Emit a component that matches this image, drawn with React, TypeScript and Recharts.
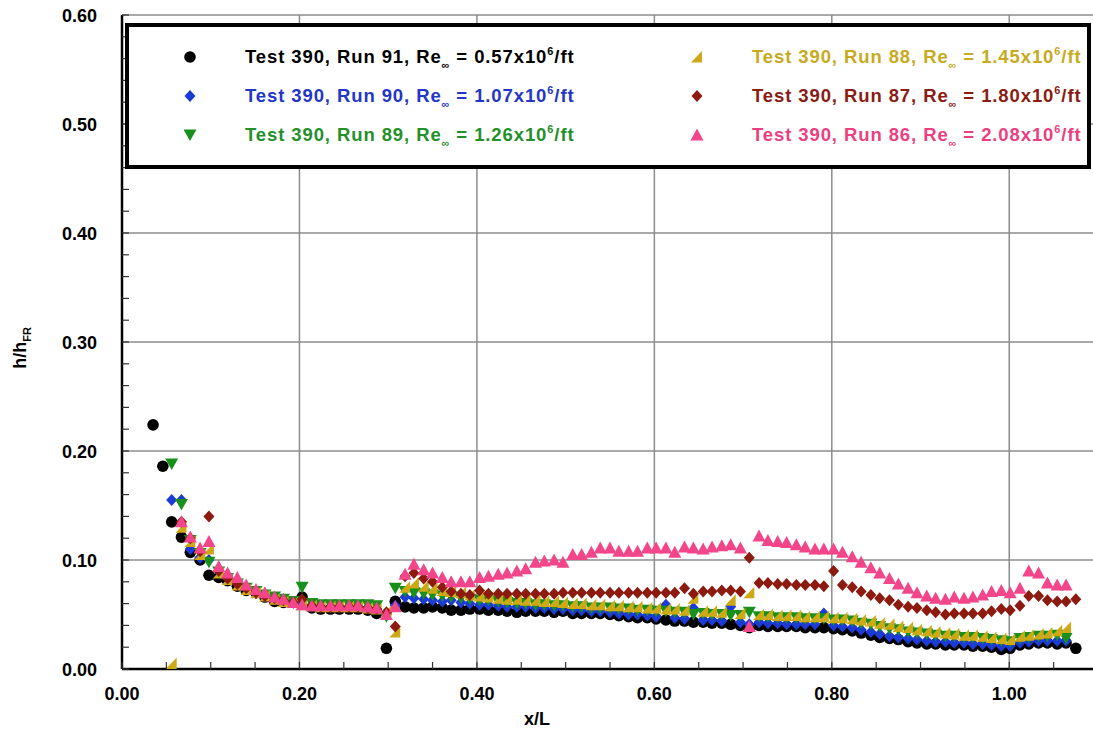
import React from "react";
import { CartesianGrid, Scatter, ScatterChart, XAxis, YAxis } from "recharts";

// x/L stations shared by all runs
const stations = [
  0.035, 0.046, 0.056, 0.067, 0.077, 0.088, 0.098, 0.109, 0.119, 0.13,
  0.14, 0.151, 0.161, 0.172, 0.182, 0.193, 0.203, 0.214, 0.224, 0.235,
  0.245, 0.256, 0.266, 0.277, 0.287, 0.298, 0.308, 0.319, 0.329, 0.34,
  0.35, 0.361, 0.371, 0.382, 0.392, 0.403, 0.413, 0.424, 0.434, 0.445,
  0.455, 0.466, 0.476, 0.487, 0.497, 0.508, 0.518, 0.529, 0.539, 0.55,
  0.56, 0.571, 0.581, 0.592, 0.602, 0.613, 0.623, 0.634, 0.644, 0.655,
  0.665, 0.676, 0.686, 0.697, 0.707, 0.718, 0.728, 0.739, 0.749, 0.76,
  0.77, 0.781, 0.791, 0.802, 0.812, 0.823, 0.833, 0.844, 0.854, 0.865,
  0.875, 0.886, 0.896, 0.907, 0.917, 0.928, 0.938, 0.949, 0.959, 0.97,
  0.98, 0.991, 1.001, 1.012, 1.022, 1.033, 1.043, 1.054, 1.064, 1.075,
];

const run91 = [
  0.224, 0.186, 0.135, 0.121, 0.107, 0.1, 0.086, 0.084, 0.081, 0.076,
  0.072, 0.07, 0.066, 0.062, 0.061, 0.061, 0.066, 0.056, 0.055, 0.055,
  0.055, 0.055, 0.055, 0.054, 0.051, 0.019, 0.062, 0.057, 0.056, 0.056,
  0.057, 0.056, 0.054, 0.054, 0.055, 0.055, 0.054, 0.054, 0.053, 0.052,
  0.053, 0.053, 0.053, 0.052, 0.053, 0.051, 0.051, 0.051, 0.051, 0.05,
  0.049, 0.048, 0.047, 0.047, 0.046, 0.045, 0.044, 0.044, 0.043, 0.043,
  0.042, 0.042, 0.041, 0.04, 0.038, 0.04, 0.039, 0.039, 0.039, 0.039,
  0.038, 0.038, 0.038, 0.037, 0.036, 0.035, 0.033, 0.031, 0.029, 0.028,
  0.027, 0.025, 0.024, 0.023, 0.023, 0.022, 0.022, 0.022, 0.021, 0.021,
  0.02, 0.018, 0.019, 0.022, 0.023, 0.024, 0.024, 0.023, 0.024, 0.019,
];

const run90 = [
  null, null, 0.155, 0.155, 0.11, 0.102, 0.1, 0.09, 0.085, 0.079,
  0.074, 0.07, 0.067, 0.064, 0.062, 0.061, 0.06, 0.058, 0.057, 0.057,
  0.057, 0.057, 0.057, 0.056, 0.055, 0.05, 0.058, 0.066, 0.065, 0.064,
  0.063, 0.062, 0.063, 0.061, 0.06, 0.059, 0.059, 0.058, 0.057, 0.057,
  0.057, 0.056, 0.056, 0.055, 0.055, 0.054, 0.054, 0.053, 0.053, 0.052,
  0.051, 0.05, 0.05, 0.049, 0.048, 0.059, 0.047, 0.046, 0.056, 0.045,
  0.045, 0.044, 0.057, 0.043, 0.041, 0.043, 0.042, 0.042, 0.041, 0.041,
  0.041, 0.041, 0.051, 0.04, 0.039, 0.038, 0.036, 0.034, 0.032, 0.03,
  0.029, 0.028, 0.027, 0.026, 0.025, 0.025, 0.024, 0.024, 0.023, 0.023,
  0.022, 0.021, 0.021, 0.024, 0.025, 0.026, 0.026, 0.026, 0.026, null,
];

const run89 = [
  null, null, 0.188, 0.151, 0.118, 0.106, 0.098, 0.089, 0.083, 0.078,
  0.074, 0.071, 0.068, 0.066, 0.064, 0.062, 0.075, 0.06, 0.059, 0.059,
  0.059, 0.059, 0.059, 0.059, 0.058, 0.048, 0.074, 0.071, 0.07, 0.069,
  0.068, 0.067, 0.066, 0.065, 0.064, 0.063, 0.063, 0.062, 0.061, 0.06,
  0.06, 0.059, 0.059, 0.058, 0.058, 0.057, 0.057, 0.056, 0.056, 0.056,
  0.055, 0.055, 0.054, 0.054, 0.053, 0.053, 0.052, 0.052, 0.05, 0.051,
  0.05, 0.05, 0.049, 0.049, 0.052, 0.048, 0.048, 0.047, 0.047, 0.047,
  0.046, 0.046, 0.046, 0.045, 0.045, 0.044, 0.042, 0.041, 0.039, 0.037,
  0.036, 0.034, 0.033, 0.032, 0.031, 0.03, 0.03, 0.029, 0.029, 0.028,
  0.027, 0.026, 0.025, 0.028, 0.029, 0.03, 0.03, 0.031, 0.028, null,
];

const run88 = [
  null, null, 0.005, 0.13, 0.117, 0.105, 0.11, 0.088, 0.082, 0.077,
  0.073, 0.07, 0.067, 0.064, 0.062, 0.061, 0.059, 0.058, 0.057, 0.057,
  0.057, 0.057, 0.057, 0.056, 0.055, 0.053, 0.034, 0.075, 0.079, 0.076,
  0.074, 0.072, 0.071, 0.07, 0.068, 0.067, 0.066, 0.065, 0.064, 0.064,
  0.063, 0.063, 0.062, 0.062, 0.061, 0.06, 0.06, 0.059, 0.059, 0.058,
  0.058, 0.057, 0.057, 0.056, 0.056, 0.055, 0.055, 0.054, 0.065, 0.053,
  0.053, 0.052, 0.063, 0.051, 0.07, 0.05, 0.05, 0.049, 0.049, 0.049,
  0.048, 0.048, 0.048, 0.047, 0.047, 0.046, 0.045, 0.044, 0.042, 0.041,
  0.039, 0.038, 0.036, 0.035, 0.034, 0.033, 0.032, 0.031, 0.031, 0.03,
  0.029, 0.028, 0.027, 0.03, 0.031, 0.032, 0.033, 0.035, 0.038, null,
];

const run87 = [
  null, null, null, 0.135, 0.12, 0.108, 0.14, 0.09, 0.083, 0.078,
  0.074, 0.07, 0.067, 0.065, 0.063, 0.061, 0.064, 0.058, 0.057, 0.057,
  0.057, 0.057, 0.057, 0.056, 0.055, 0.052, 0.039, 0.085, 0.088, 0.083,
  0.08, 0.075, 0.071, 0.069, 0.068, 0.072, 0.069, 0.069, 0.069, 0.069,
  0.069, 0.069, 0.069, 0.069, 0.07, 0.07, 0.07, 0.07, 0.07, 0.07,
  0.07, 0.07, 0.07, 0.07, 0.07, 0.07, 0.07, 0.074, 0.069, 0.071,
  0.071, 0.072, 0.072, 0.071, 0.102, 0.079, 0.079, 0.078, 0.078, 0.077,
  0.077, 0.077, 0.076, 0.09, 0.077, 0.075, 0.071, 0.068, 0.065, 0.063,
  0.059, 0.057, 0.056, 0.054, 0.052, 0.05, 0.051, 0.051, 0.051, 0.051,
  0.053, 0.055, 0.054, 0.058, 0.067, 0.067, 0.063, 0.062, 0.062, 0.064,
];

const run86 = [
  null, null, null, 0.135, 0.121, 0.111, 0.117, 0.094, 0.088, 0.084,
  0.077, 0.073, 0.07, 0.066, 0.064, 0.061, 0.059, 0.058, 0.058, 0.058,
  0.058, 0.058, 0.058, 0.057, 0.056, 0.05, 0.057, 0.087, 0.096, 0.091,
  0.088, 0.084, 0.08, 0.08, 0.08, 0.084, 0.085, 0.087, 0.088, 0.09,
  0.092, 0.098, 0.099, 0.1, 0.098, 0.105, 0.105, 0.107, 0.111, 0.111,
  0.108, 0.108, 0.108, 0.111, 0.111, 0.111, 0.107, 0.112, 0.111, 0.11,
  0.112, 0.113, 0.114, 0.111, 0.039, 0.122, 0.118, 0.117, 0.116, 0.114,
  0.112, 0.11, 0.11, 0.11, 0.107, 0.103, 0.098, 0.093, 0.088, 0.083,
  0.078, 0.074, 0.07, 0.067, 0.065, 0.064, 0.066, 0.065, 0.066, 0.068,
  0.071, 0.072, 0.07, 0.074, 0.09, 0.088, 0.079, 0.077, 0.077, null,
];

const runNumbers = ["91", "90", "89", "88", "87", "86"];
const reValues = ["0.57", "1.07", "1.26", "1.45", "1.80", "2.08"];

const xTicks = [
  0, 0.05, 0.1, 0.15, 0.2, 0.25, 0.3, 0.35, 0.4, 0.45, 0.5, 0.55,
  0.6, 0.65, 0.7, 0.75, 0.8, 0.85, 0.9, 0.95, 1.0, 1.05, 1.1,
];
const xMajor = [0, 0.2, 0.4, 0.6, 0.8, 1.0];
const yTicks = [
  0, 0.02, 0.04, 0.06, 0.08, 0.1, 0.12, 0.14, 0.16, 0.18, 0.2, 0.22,
  0.24, 0.26, 0.28, 0.3, 0.32, 0.34, 0.36, 0.38, 0.4, 0.42, 0.44, 0.46,
  0.48, 0.5, 0.52, 0.54, 0.56, 0.58, 0.6,
];
const yMajor = [0, 0.1, 0.2, 0.3, 0.4, 0.5, 0.6];

const FONT = "'Liberation Sans', Arial, Helvetica, sans-serif";

type Kind = "circle" | "diamond" | "down" | "wedge" | "up";

const series = [
  { key: "r91", values: run91, color: "#000000", text: "#000000", kind: "circle" as Kind },
  { key: "r90", values: run90, color: "#1c3ad6", text: "#2436c8", kind: "diamond" as Kind },
  { key: "r89", values: run89, color: "#17901c", text: "#23902a", kind: "down" as Kind },
  { key: "r88", values: run88, color: "#cda916", text: "#c8aa1e", kind: "wedge" as Kind },
  { key: "r87", values: run87, color: "#8c1a0e", text: "#8a1c14", kind: "diamond" as Kind },
  { key: "r86", values: run86, color: "#f2458a", text: "#ec3f80", kind: "up" as Kind },
];

const isMajor = (v: number, list: number[]) =>
  list.some((m) => Math.abs(m - v) < 1e-6);

const marker = (kind: Kind, cx: number, cy: number, color: string) => {
  if (kind === "circle") return <circle cx={cx} cy={cy} r={5.8} fill={color} />;
  let pts = "";
  if (kind === "diamond")
    pts = `${cx},${cy - 6} ${cx + 5.5},${cy} ${cx},${cy + 6} ${cx - 5.5},${cy}`;
  if (kind === "down")
    pts = `${cx - 6.5},${cy - 5.5} ${cx + 6.5},${cy - 5.5} ${cx},${cy + 6}`;
  if (kind === "up")
    pts = `${cx - 6.5},${cy + 5.5} ${cx + 6.5},${cy + 5.5} ${cx},${cy - 6.5}`;
  if (kind === "wedge")
    pts = `${cx - 6},${cy + 5.5} ${cx + 5},${cy + 5.5} ${cx + 5},${cy - 6}`;
  return <polygon points={pts} fill={color} />;
};

const XTick = (props: any) => {
  const { x, y, payload } = props;
  const v = payload.value as number;
  return (
    <g>
      <line x1={x} y1={y} x2={x} y2={y - 7} stroke="#333" strokeWidth={1.2} />
      {isMajor(v, xMajor) && (
        <text x={x} y={y + 31} textAnchor="middle" fontFamily={FONT} fontWeight="bold" fontSize={18} fill="#000">
          {v.toFixed(2)}
        </text>
      )}
    </g>
  );
};

const TopTick = (props: any) => {
  const { x, y } = props;
  return <line x1={x} y1={y} x2={x} y2={y + 7} stroke="#333" strokeWidth={1.2} />;
};

const YTick = (props: any) => {
  const { x, y, payload } = props;
  const v = payload.value as number;
  return (
    <g>
      <line x1={x} y1={y} x2={x + 7} y2={y} stroke="#333" strokeWidth={1.2} />
      {isMajor(v, yMajor) && (
        <text x={x - 25} y={y + 6.5} textAnchor="end" fontFamily={FONT} fontWeight="bold" fontSize={18} fill="#000">
          {v.toFixed(2)}
        </text>
      )}
    </g>
  );
};

const YLabel = (props: any) => {
  const vb = props.viewBox || { y: 15, height: 654 };
  const cy = vb.y + vb.height / 2 + 6;
  return (
    <text
      transform={`rotate(-90, 26, ${cy})`}
      x={26}
      y={cy}
      textAnchor="middle"
      fontFamily={FONT}
      fontWeight="bold"
      fontSize={18}
      fill="#000"
    >
      h/h
      <tspan fontSize={11} dy={5}>FR</tspan>
    </text>
  );
};

const LegendEntry = ({ idx }: { idx: number }) => {
  const s = series[idx];
  return (
    <div style={{ display: "flex", alignItems: "center", height: 39 }}>
      <svg width={16} height={16} style={{ marginLeft: 53, marginRight: 47 }}>
        {marker(s.kind, 8, 8, s.color)}
      </svg>
      <span style={{ color: s.text, fontFamily: FONT, fontWeight: "bold", fontSize: 18.5, letterSpacing: 0.9, whiteSpace: "nowrap" }}>
        Test 390, Run {runNumbers[idx]}, Re
        <span style={{ fontSize: 11, verticalAlign: -6, lineHeight: 0 }}>∞</span>
        {" = "}
        {reValues[idx]}x10
        <span style={{ fontSize: 11, verticalAlign: 8, lineHeight: 0 }}>6</span>
        /ft
      </span>
    </div>
  );
};

export default function App() {
  return (
    <div style={{ position: "absolute", left: 0, top: 0, width: 1093, height: 730, overflow: "hidden", background: "#fff" }}>
      <ScatterChart width={1100} height={730} margin={{ top: 15, right: 2, bottom: 0, left: 0 }}>
        <CartesianGrid
          stroke="#8c8c8c"
          strokeWidth={1.5}
          verticalValues={xMajor}
          horizontalValues={yMajor}
        />
        <XAxis
          dataKey="x"
          type="number"
          domain={[0, 1.1]}
          ticks={xTicks}
          interval={0}
          height={61}
          tickSize={0}
          tickMargin={0}
          tickLine={false}
          tick={<XTick />}
          axisLine={{ stroke: "#000", strokeWidth: 2.5 }}
          allowDataOverflow
          label={{
            value: "x/L",
            position: "insideBottom",
            offset: 5,
            dx: -73,
            style: { fontFamily: FONT, fontWeight: "bold", fontSize: 18, fill: "#000" },
          }}
        />
        <XAxis
          xAxisId="top"
          orientation="top"
          type="number"
          domain={[0, 1.1]}
          ticks={xTicks}
          interval={0}
          height={0}
          tickSize={0}
          tickMargin={0}
          tickLine={false}
          tick={<TopTick />}
          axisLine={false}
          allowDataOverflow
        />
        <YAxis
          dataKey="y"
          type="number"
          domain={[0, 0.6]}
          ticks={yTicks}
          interval={0}
          width={122}
          tickSize={0}
          tickMargin={0}
          tickLine={false}
          tick={<YTick />}
          axisLine={{ stroke: "#000", strokeWidth: 2.5 }}
          allowDataOverflow
          label={<YLabel />}
        />
        {series.map((s) => (
          <Scatter
            key={s.key}
            data={stations
              .map((x, i) => ({ x, y: s.values[i] }))
              .filter((p) => p.y !== null)}
            fill={s.color}
            isAnimationActive={false}
            shape={(p: any) => marker(s.kind, p.cx, p.cy, s.color)}
          />
        ))}
      </ScatterChart>
      <div
        style={{
          position: "absolute",
          left: 125,
          top: 23,
          width: 966,
          height: 146,
          border: "4px solid #000",
          boxSizing: "border-box",
          background: "#fff",
          paddingTop: 10.5,
          display: "grid",
          gridTemplateColumns: "507px 1fr",
          gridAutoRows: "39px",
          alignContent: "start",
        }}
      >
        <LegendEntry idx={0} />
        <LegendEntry idx={3} />
        <LegendEntry idx={1} />
        <LegendEntry idx={4} />
        <LegendEntry idx={2} />
        <LegendEntry idx={5} />
      </div>
    </div>
  );
}
